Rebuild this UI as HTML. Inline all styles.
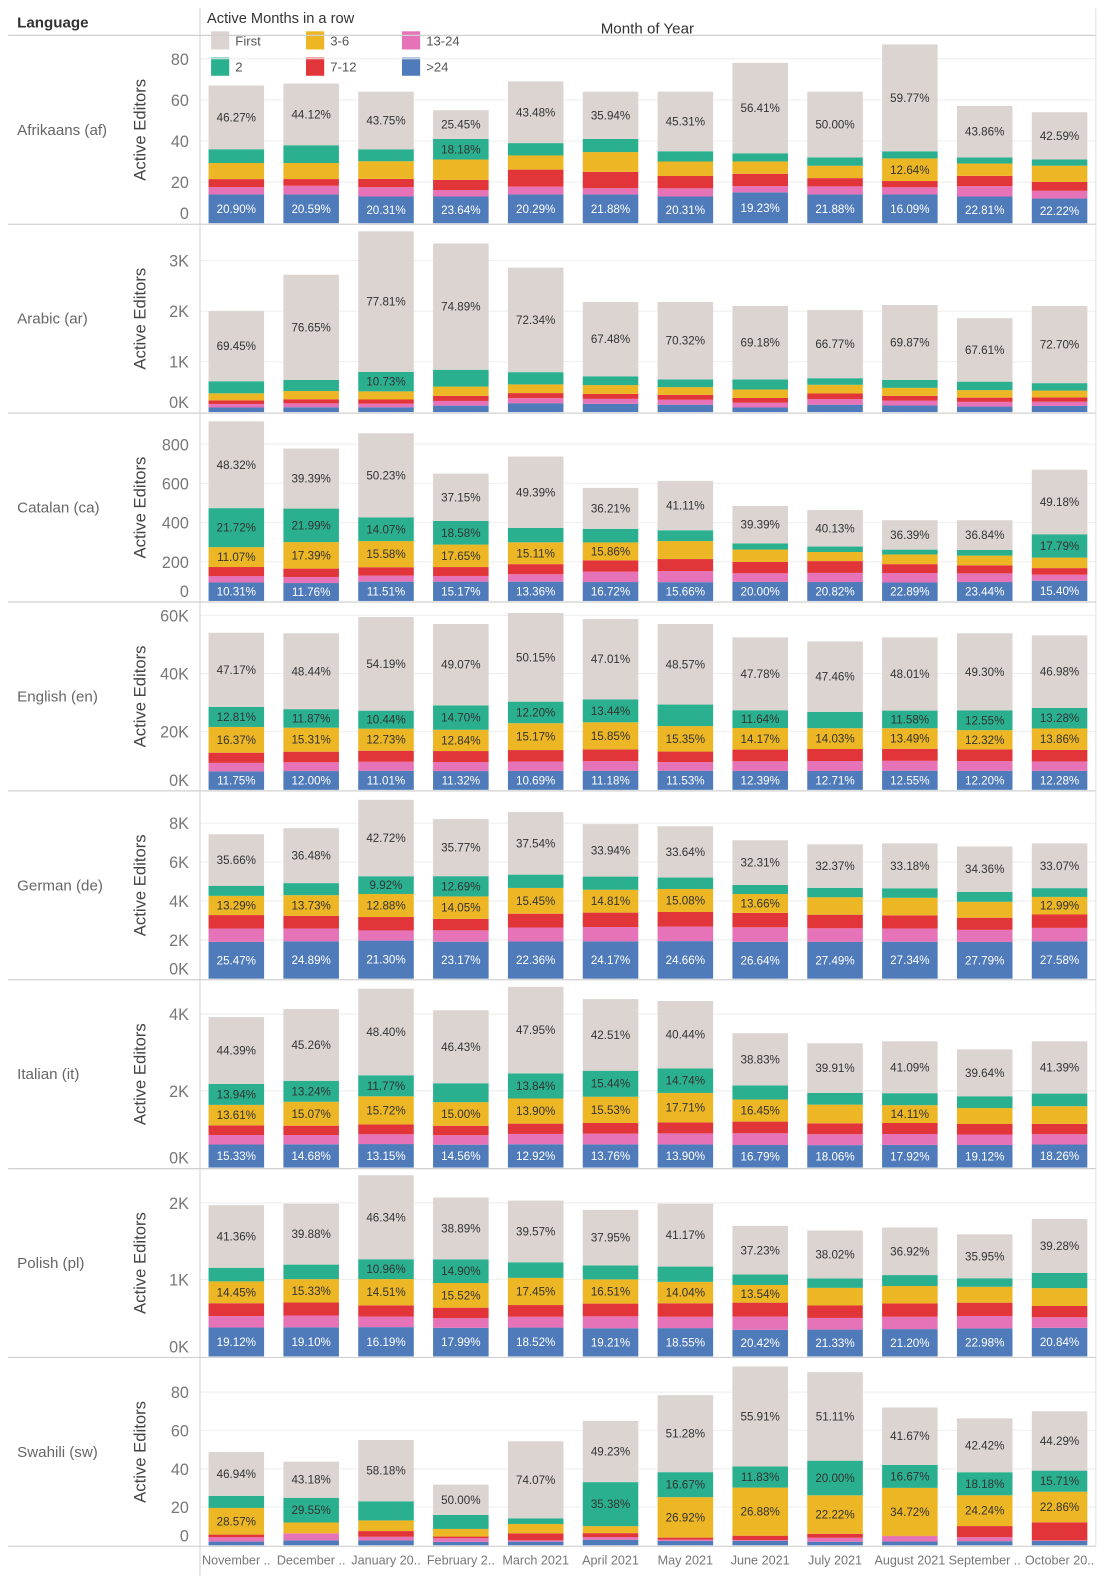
<!DOCTYPE html>
<html><head><meta charset="utf-8"><style>
html,body{margin:0;padding:0;background:#fff;}
svg{display:block;font-family:"Liberation Sans",sans-serif;}
</style></head><body>
<svg id="chart" width="1105" height="1584" viewBox="0 0 1094.1 1568.3" preserveAspectRatio="none" xmlns="http://www.w3.org/2000/svg">
<text x="17" y="27" font-size="15" font-weight="bold" fill="#333">Language</text>
<text x="205" y="23" font-size="14.5" fill="#333">Active Months in a row</text>
<text x="641" y="33" font-size="15" fill="#333" text-anchor="middle">Month of Year</text>
<g id="legend"></g>
<g id="grid"></g>
<g id="bars"></g>
<g id="frame"></g>
</svg>
<script>
const months = ["November ..","December ..","January 20..","February 2..","March 2021","April 2021","May 2021","June 2021","July 2021","August 2021","September ..","October 20.."];
const languages = ["Afrikaans (af)","Arabic (ar)","Catalan (ca)","English (en)","German (de)","Italian (it)","Polish (pl)","Swahili (sw)"];
const axisMax = [91.4,3720,959,64580,9662,4895,2447,98.1];
const tickValues = [[0,20,40,60,80],[0,1000,2000,3000],[0,200,400,600,800],[0,20000,40000,60000],[0,2000,4000,6000,8000],[0,2000,4000],[0,1000,2000],[0,20,40,60,80]];
const tickLabels = [["0","20","40","60","80"],["0K","1K","2K","3K"],["0","200","400","600","800"],["0K","20K","40K","60K"],["0K","2K","4K","6K","8K"],["0K","2K","4K"],["0K","1K","2K"],["0","20","40","60","80"]];
const totalEditors = [
[67,68,64,55,69,64,64,78,64,87,57,54],
[2000,2720,3580,3340,2860,2180,2180,2100,2020,2120,1860,2100],
[917,778,856,650,737,577,613,485,464,412,412,670],
[54000,53800,59400,57000,60800,58700,57000,52400,51000,52400,53800,53100],
[7430,7740,9200,8210,8570,7950,7840,7120,6910,6960,6800,6960],
[3920,4130,4660,4100,4710,4390,4340,3500,3240,3290,3080,3290],
[1970,1990,2360,2070,2030,1910,1990,1700,1640,1680,1590,1790],
[48.7,43.7,55,31.7,54.3,65,78.4,93.4,90.4,72,66.3,70]];
const pctOver = [
[20.90,20.59,20.31,23.64,20.29,21.88,20.31,19.23,21.88,16.09,22.81,22.22],
[4.55,3.55,2.66,3.81,6.16,7.52,6.68,4.32,7.23,6.13,5.89,5.8],
[10.31,11.76,11.51,15.17,13.36,16.72,15.66,20.00,20.82,22.89,23.44,15.40],
[11.75,12.00,11.01,11.32,10.69,11.18,11.53,12.39,12.71,12.55,12.20,12.28],
[25.47,24.89,21.30,23.17,22.36,24.17,24.66,26.64,27.49,27.34,27.79,27.58],
[15.33,14.68,13.15,14.56,12.92,13.76,13.90,16.79,18.06,17.92,19.12,18.26],
[19.12,19.10,16.19,17.99,18.52,19.21,18.55,20.42,21.33,21.20,22.98,20.84],
[4,5.87,4.64,5.7,3.53,4.49,2.93,2.48,2.07,2.74,3.26,3.24]];
const pctThirteen = [
[5.33,6.2,7.1,5.7,5.5,4.7,6.2,3.9,6.1,4,8.8,7],
[3.5,2.8,2,2.8,3.5,4.5,4.5,4.5,5.5,4.5,5,4],
[3.58,3.97,3.61,4.45,5.14,9.21,9.23,9.11,10.05,11.72,10.72,4.63],
[5.4,5.58,5.23,5.47,5.29,5.62,5.15,6.32,6.7,6.47,6.13,6.1],
[9.28,8.4,5.68,7.12,8.35,9.28,9.52,10.49,10.04,9.78,9.15,9.96],
[6.33,5.85,5.46,6.01,5.69,6.36,6.61,8.73,8.73,8.68,8.84,8.15],
[7.57,7.69,5.8,6.1,6.96,8.13,7.44,10.11,9.25,9.58,10.17,7.68],
[4.6,8.4,3.5,6,1.3,2.1,0.9,0.5,2.3,3.9,3.2,0.5]];
const pctSeven = [
[5.8,4.8,6.3,9,12,12.5,9.4,7.7,6.3,3.5,8.8,8],
[3.5,3,2.3,3,3.5,4.5,4.5,4.5,5.5,4.5,4.5,4],
[5,5.5,5,7,7,10,10,12,13,11,10,5],
[6.5,6.8,6.4,6.6,6.5,6.9,6.4,7.7,8.1,7.9,7.5,7.5],
[9.3,8.5,7.5,7.2,8.3,9.3,9.6,10.4,10.1,9.7,9.2,9.9],
[6.4,5.9,5.5,6,5.7,6.4,6.6,8.7,8.8,8.7,8.9,8.2],
[8.5,8.5,6.2,6.6,7.5,8.7,8.8,10.7,9.9,10.3,10.9,8.2],
[2.9,0,5.4,2.7,6.7,3.2,1.3,2.4,2.3,0.3,8.7,13.4]];
const pctThree = [
[11.7,11.5,13.4,18,10,15,11,7.7,9.4,12.64,10.5,14.6],
[7,6,4.5,5.5,6,8,7,8,8.5,7.5,8,6.5],
[11.07,17.39,15.58,17.65,15.11,15.86,15,13,10,12,12,8],
[16.37,15.31,12.73,12.84,15.17,15.85,15.35,14.17,14.03,13.49,12.32,13.86],
[13.29,13.73,12.88,14.05,15.45,14.81,15.08,13.66,13,13,12,12.99],
[13.61,15.07,15.72,15.00,13.90,15.53,17.71,16.45,15,14.11,13.5,14],
[14.45,15.33,14.51,15.52,17.45,16.51,14.04,13.54,14,13.5,13,13],
[28.57,13,10.1,12.6,9,5.6,26.92,26.88,22.22,34.72,24.24,22.86]];
const pctTwo = [
[10,12.7,9.1,18.18,8.7,10,7.8,5.1,6.3,4,5.3,5.6],
[12,8,10.73,10,8.5,8,7,9.5,6.5,7.5,9,7],
[21.72,21.99,14.07,18.58,10,12,9,6.5,6,6,7,17.79],
[12.81,11.87,10.44,14.70,12.20,13.44,13,11.64,11,11.58,12.55,13.28],
[7,8,9.92,12.69,8,8.5,7.5,6.5,7,7,7.5,6.5],
[13.94,13.24,11.77,12,13.84,15.44,14.74,10.5,9.5,9.5,10,10],
[9,9.5,10.96,14.90,10,9.5,10,8,7.5,8.5,7,11],
[13,29.55,18.18,23,5.4,35.38,16.67,11.83,20.00,16.67,18.18,15.71]];
const pctFirst = [
[46.27,44.12,43.75,25.45,43.48,35.94,45.31,56.41,50.00,59.77,43.86,42.59],
[69.45,76.65,77.81,74.89,72.34,67.48,70.32,69.18,66.77,69.87,67.61,72.70],
[48.32,39.39,50.23,37.15,49.39,36.21,41.11,39.39,40.13,36.39,36.84,49.18],
[47.17,48.44,54.19,49.07,50.15,47.01,48.57,47.78,47.46,48.01,49.30,46.98],
[35.66,36.48,42.72,35.77,37.54,33.94,33.64,32.31,32.37,33.18,34.36,33.07],
[44.39,45.26,48.40,46.43,47.95,42.51,40.44,38.83,39.91,41.09,39.64,41.39],
[41.36,39.88,46.34,38.89,39.57,37.95,41.17,37.23,38.02,36.92,35.95,39.28],
[46.94,43.18,58.18,50.00,74.07,49.23,51.28,55.91,51.11,41.67,42.42,44.29]];
const labelOver = ["111111111111","000000000000","111111111111","111111111111","111111111111","111111111111","111111111111","000000000000"];
const labelThree = ["000000000100","000000000000","111111000000","111111111111","111111110001","111111110100","111111110000","100000111111"];
const labelTwo = ["000100000000","001000000000","111100000001","111111010111","001100000000","111011100000","001100000000","010001111111"];
const categories = ["First","2","3-6","7-12","13-24",">24"];

const NS = "http://www.w3.org/2000/svg";
const colors = {"First":"#dbd4d1","2":"#2ab08e","3-6":"#ecb624","7-12":"#e1353a","13-24":"#e673b7",">24":"#4f7bba"};
function mk(tag, attrs, parent){const e=document.createElementNS(NS,tag);for(const k in attrs)e.setAttribute(k,attrs[k]);parent.appendChild(e);return e;}
const svg=document.getElementById('chart');
const gGrid=document.getElementById('grid'), gBars=document.getElementById('bars'), gFrame=document.getElementById('frame'), gLeg=document.getElementById('legend');
const PLOT_L=198, PLOT_R=1085, PANEL_H=187, TOP0=35, BAR_W=55;
function xCenter(i){return 234 + i*74.1;}
function yScale(p, v){const zero=TOP0+(p+1)*PANEL_H-1;return zero - v/axisMax[p]*(PANEL_H-1);}

// legend
const legPos=[[209,31,"First"],[209,57,"2"],[303,31,"3-6"],[303,57,"7-12"],[398,31,"13-24"],[398,57,">24"]];
legPos.forEach(([x,y,c])=>{
  const r=mk('rect',{x:x,y:y,width:18,height:18,fill:colors[c]},gLeg);
  
  
  const t=mk('text',{x:x+24,y:y+14,'font-size':13,fill:'#555'},gLeg);
  t.textContent=c;
  
  
});

// frame lines
const hl=mk('line',{x1:8,y1:TOP0,x2:PLOT_R,y2:TOP0,stroke:'#d0d0d0','stroke-width':1.2},gFrame);


const vl=mk('line',{x1:PLOT_L,y1:8,x2:PLOT_L,y2:1560,stroke:'#d0d0d0','stroke-width':1},gFrame);


const rl=mk('line',{x1:PLOT_R,y1:8,x2:PLOT_R,y2:1531,stroke:'#e2e2e2','stroke-width':1},gFrame);



const segDefs=[["First",pctFirst],["2",pctTwo],["3-6",pctThree],["7-12",pctSeven],["13-24",pctThirteen],[">24",pctOver]];
languages.forEach((lang,p)=>{
  const top=TOP0+p*PANEL_H, bottom=top+PANEL_H;
  const pl=mk('line',{x1:8,y1:bottom,x2:PLOT_R,y2:bottom,stroke:'#d0d0d0','stroke-width':1.2},gFrame);
  
  
  const lt=mk('text',{x:17,y:top+PANEL_H/2+5,'font-size':15,fill:'#666'},gFrame);
  lt.textContent=lang;
  
  
  const cy=top+PANEL_H/2;
  const at=mk('text',{x:144,y:cy,'font-size':16.5,fill:'#444','text-anchor':'middle',transform:'rotate(-90 144 '+cy+')'},gFrame);
  at.textContent='Active Editors';
  
  
  tickValues[p].forEach((v,k)=>{
    const y=yScale(p,v);
    if(v>0){
      const gl=mk('line',{x1:PLOT_L,y1:y,x2:PLOT_R,y2:y,stroke:'#eeeeee','stroke-width':1},gGrid);
      
      
    }
    const ly=Math.min(y+6,bottom-5);
    const tt=mk('text',{x:187,y:ly,'font-size':16,fill:'#777','text-anchor':'end'},gFrame);
    tt.textContent=tickLabels[p][k];
    
    
  });
  months.forEach((m,i)=>{
    const total=totalEditors[p][i];
    let acc=0;
    const xc=xCenter(i);
    for(let s=segDefs.length-1;s>=0;s--){
      const [cat,arr]=segDefs[s];
      const val=total*arr[p][i]/100;
      const y0=yScale(p,acc), y1=yScale(p,acc+val);
      acc+=val;
      const r=mk('rect',{x:xc-BAR_W/2,y:y1,width:BAR_W,height:Math.max(0,y0-y1),fill:colors[cat]},gBars);
      
      
      let show=false;
      if(cat==="First") show=true;
      else if(cat===">24") show=labelOver[p][i]==="1";
      else if(cat==="3-6") show=labelThree[p][i]==="1";
      else if(cat==="2") show=labelTwo[p][i]==="1";
      if(show){
        const t=mk('text',{x:xc,y:(y0+y1)/2+4,'font-size':11.5,'text-anchor':'middle',fill:cat===">24"?'#ffffff':'#333'},gBars);
        t.textContent=arr[p][i].toFixed(2)+'%';
        
        
      }
    }
  });
});
months.forEach((m,i)=>{
  const t=mk('text',{x:xCenter(i),y:1549,'font-size':12.5,fill:'#777','text-anchor':'middle'},gFrame);
  t.textContent=m;
  
  
});
</script>
</body></html>
